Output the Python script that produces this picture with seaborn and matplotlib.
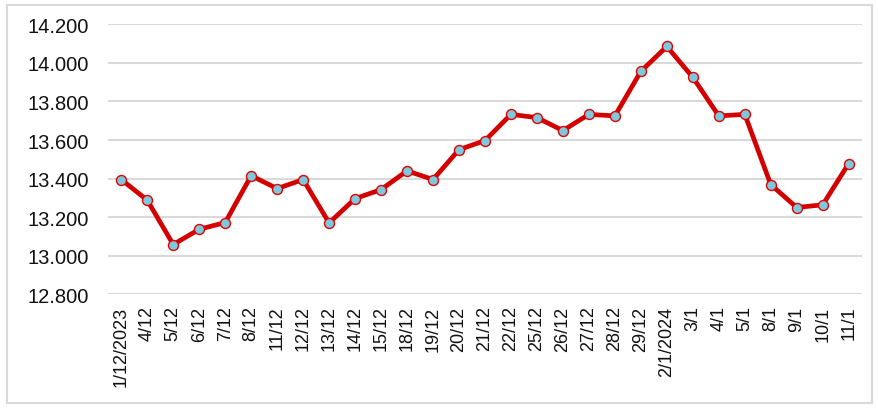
import matplotlib
matplotlib.use("Agg")
import matplotlib.pyplot as plt
import pandas as pd
import seaborn as sns
from matplotlib.patches import FancyBboxPatch

# Dates (category labels) and values
dates = ['1/12/2023', '4/12', '5/12', '6/12', '7/12', '8/12', '11/12', '12/12',
         '13/12', '14/12', '15/12', '18/12', '19/12', '20/12', '21/12', '22/12',
         '25/12', '26/12', '27/12', '28/12', '29/12', '2/1/2024', '3/1', '4/1',
         '5/1', '8/1', '9/1', '10/1', '11/1']
values = [13395, 13288, 13058, 13137, 13172, 13415, 13348, 13395,
          13170, 13296, 13343, 13440, 13395, 13550, 13597, 13733,
          13716, 13649, 13733, 13725, 13956, 14085, 13925, 13725,
          13733, 13369, 13250, 13264, 13478]
y_ticks = [12800, 13000, 13200, 13400, 13600, 13800, 14000, 14200]

df = pd.DataFrame({'date': dates, 'value': values})
df['pos'] = range(len(df))

sns.set_style('white')
plt.rcParams['font.family'] = ['Liberation Sans', 'DejaVu Sans']

fig = plt.figure(figsize=(8.79, 4.10), dpi=100)
ax = fig.add_axes([0.1232, 0.2798, 0.8571, 0.6585])

# light grey frame around the whole chart
frame = FancyBboxPatch((7 / 879, 6 / 410), 865 / 879, 398 / 410,
                       boxstyle='square,pad=0', transform=fig.transFigure,
                       facecolor='none', edgecolor='#d9d9d9', linewidth=1.5)
fig.patches.append(frame)

sns.lineplot(data=df, x='pos', y='value', ax=ax, color='#d40000', linewidth=3.4,
             marker='o', markersize=7.2, markerfacecolor='#7ec8dc',
             markeredgecolor='#e00000', markeredgewidth=1.0, sort=False)

ax.set_xlim(-0.5, len(dates) - 0.5)
ax.set_ylim(12800, 14200)
ax.set_yticks(y_ticks)
ax.set_yticklabels([f'{v / 1000:.3f}' for v in y_ticks], fontsize=14.5, color='#111111')
ax.set_xticks(df['pos'])
ax.set_xticklabels(dates, rotation=90, fontsize=13, color='#111111')
ax.tick_params(axis='y', length=0, pad=14)
ax.tick_params(axis='x', length=0, pad=8)
ax.yaxis.grid(True, color='#d9d9d9', linewidth=1.5)
ax.set_axisbelow(True)
for s in ax.spines.values():
    s.set_visible(False)
ax.set_xlabel('')
ax.set_ylabel('')

fig.savefig('out.png', dpi=100)
